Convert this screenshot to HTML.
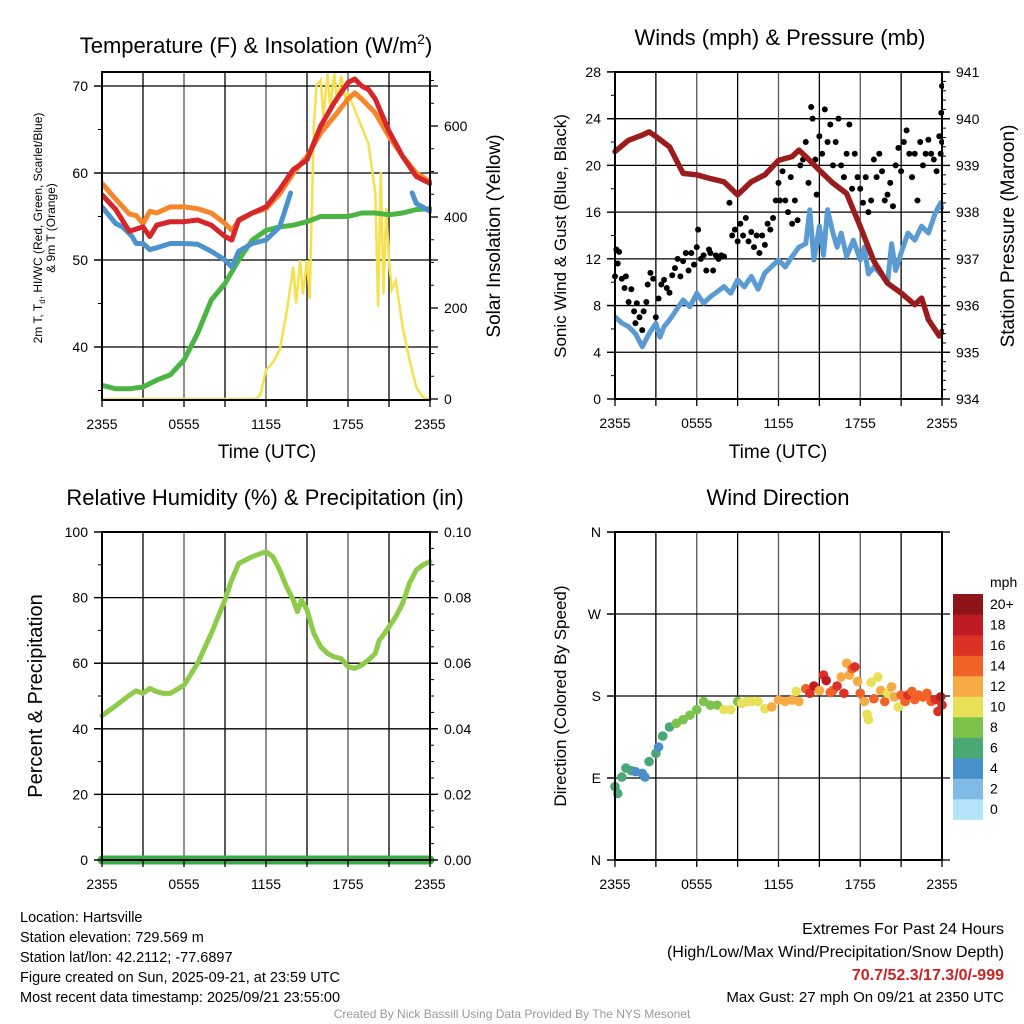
<!DOCTYPE html>
<html><head><meta charset="utf-8">
<style>
body{margin:0;background:#fff;}
svg{display:block;font-family:"Liberation Sans",Arial,sans-serif;}
</style></head>
<body>
<svg id="root" width="1024" height="1024" viewBox="0 0 1024 1024" xmlns="http://www.w3.org/2000/svg">
<defs>
<clipPath id="c1"><rect x="102" y="72" width="330" height="328"/></clipPath>
<clipPath id="c2"><rect x="612" y="72" width="332" height="328"/></clipPath>
<clipPath id="c3"><rect x="96" y="532" width="342" height="335"/></clipPath>
<clipPath id="c4"><rect x="605" y="532" width="345" height="328"/></clipPath>
</defs>
</svg>
<script>
// ---- Panel 1 data (hours since 2355 UTC) ----
const orangeH=[0,1,2,2.5,3,3.5,4,5,6,7,8,9,9.5,10,11,12,13,14,15,16,17,18,18.5,19,19.5,20,21,22,23,24];
const orangeT=[58.8,57.0,55.3,55.1,54.2,55.6,55.4,56.1,56.1,55.9,55.4,54.2,53.4,54.5,55.4,55.9,57.6,60,61.9,64.6,66.5,68.5,69.2,68.5,67.7,66.9,64.2,61.9,60,59.0];
const redH=[0,1,2,3,3.5,4,5,6,7,8,9,9.5,10,11,12,13,14,15,16,17,18,18.5,19,19.5,20,21,22,23,24];
const redT=[57.5,55.8,53.3,53.8,52.7,54.0,54.4,54.4,54.6,54.0,52.7,52.3,54.6,55.4,56.1,58.1,60.4,61.5,65.4,68.1,70.4,70.8,70.0,69.6,68.5,64.8,61.9,59.6,58.8];
const blueH=[0,1,1.5,2.2,2.5,3,3.5,4,5,6,7,8,9,9.5,10,11,12,13,13.8,null,22.7,23,24];
const blueT=[56.1,54.2,53.8,52.7,51.9,51.9,51.2,51.4,51.9,51.9,51.8,51.0,50.0,49.2,51.0,51.9,52.3,53.8,57.7,null,57.7,56.5,55.6];
const greenH=[0,1,2,3,4,5,6,7,8,9,10,11,12,13,14,15,16,17,18,19,20,21,22,23,24];
const greenT=[35.6,35.2,35.2,35.4,36.2,36.8,38.5,41.6,45.4,47.3,50.0,52.3,53.4,53.8,54.0,54.4,55.0,55.0,55.0,55.4,55.4,55.2,55.4,55.8,55.9];
const solarH=[0,11.3,11.6,12,12.5,13,13.5,14,14.2,14.5,14.7,15,15.2,15.5,15.7,16,16.2,16.5,16.7,17,17.2,17.5,17.8,18,18.5,19,19.5,20,20.2,20.4,20.6,20.8,21,21.2,21.5,22,22.5,23,23.5,24];
const solarW=[0,0,10,64,80,108,189,290,210,305,230,305,220,598,690,701,620,716,640,716,650,710,660,672,635,598,560,453,202,500,230,420,305,240,260,158,86,26,3,0];
// ---- Panel 2 data ----
const presH=[0,1,2,2.5,3,4,5,6,7,8,9,10,11,12,13,13.5,14,15,16,17,18,19,20,21,22,22.5,23,23.8,24];
const presMb=[939.3,939.54,939.65,939.72,939.62,939.40,938.83,938.80,938.72,938.65,938.37,938.65,938.80,939.11,939.19,939.33,939.19,938.90,938.62,938.40,937.69,936.95,936.48,936.27,936.02,936.16,935.70,935.35,935.45];
const windH=[0,0.5,1,1.5,2,2.5,3,3.3,3.6,4,5,5.5,6,6.5,7,8,8.5,9,9.5,10,10.5,11,12,12.5,13,13.5,14,14.3,14.6,15,15.3,15.6,16,16.3,16.6,17,17.5,18,18.3,18.6,19,19.5,20,20.3,20.6,21,21.5,22,22.5,23,23.5,23.9,24];
const windMph=[7.05,6.5,6.19,5.6,4.48,5.6,6.47,5.3,6.2,6.76,8.48,7.9,9.05,8.2,8.76,9.62,9.05,10.2,9.6,10.5,9.4,10.8,11.9,11.3,12.2,13.0,13.3,16.2,11.9,14.8,12.3,16.2,14.2,13.0,14.2,12.2,13.6,11.9,13.0,10.7,11.3,10.7,9.9,13.3,11.0,12.5,14.2,13.6,14.8,14.2,15.9,16.8,16.2];
const gustH=[0,0.1,0.2,0.3,0.5,0.7,0.8,1.0,1.2,1.4,1.5,1.6,1.8,2.0,2.1,2.3,2.4,2.6,2.8,3.0,3.2,3.4,3.6,3.8,4.0,4.2,4.4,4.6,4.8,5.0,5.2,5.4,5.6,5.8,6.0,6.1,6.3,6.5,6.7,6.9,7.0,7.2,7.4,7.6,7.8,8.0,8.4,8.6,8.8,9.0,9.2,9.4,9.6,9.8,10.0,10.2,10.4,10.6,10.8,11.0,11.2,11.4,11.6,11.8,12.0,12.1,12.3,12.5,12.7,12.9,13.0,13.2,13.4,13.6,13.8,14.0,14.2,14.4,14.5,14.7,14.8,15.0,15.2,15.4,15.6,15.8,16.0,16.2,16.4,16.6,16.8,17.0,17.2,17.4,17.6,17.8,18.0,18.2,18.4,18.6,18.8,19.0,19.2,19.4,19.6,19.8,20.0,20.2,20.4,20.6,20.8,21.0,21.2,21.4,21.6,21.8,22.0,22.2,22.4,22.6,22.8,23.0,23.2,23.4,23.6,23.8,23.9,24.0,23.95,24.0];
const gustMph=[10.5,12.8,11.6,12.6,10.3,9.5,10.5,8.3,9.4,7.5,6.5,8.2,7.0,5.9,7.5,8.3,9.8,10.8,10.3,7.0,8.6,9.8,10.2,9.5,9.1,10.6,11.2,12.0,10.5,11.8,12.5,11.0,12.5,11.5,13.0,14.5,12.0,12.3,11.0,12.8,12.5,11.0,12.3,12.0,12.3,12.2,16.8,14.0,14.5,13.5,15.0,14.0,15.5,13.5,14.3,13.0,14.0,12.5,14.0,13.2,15.0,14.5,15.5,17.0,18.5,17.0,19.5,17.0,16.0,19.0,15.0,17.0,15.3,20.0,20.5,22.0,18.5,25.0,24.0,20.5,17.5,22.5,21.0,24.8,22.0,23.5,20.0,22.0,24.0,20.0,19.0,21.0,23.5,18.0,21.0,19.0,18.0,16.8,19.0,16.0,17.0,20.5,19.0,21.0,19.5,17.0,17.5,18.5,16.5,20.0,21.5,19.5,22.0,23.0,21.0,19.0,21.0,17.0,22.0,20.0,21.0,22.2,21.0,20.5,19.5,22.5,21.0,22.0,24.5,26.8];
// ---- Panel 3 data ----
const rhH=[0,1,2,2.5,3,3.5,4,4.5,5,6,7,8,9,9.5,10,11,12,12.5,13,13.5,14,14.3,14.6,15,15.5,16,16.5,17,17.5,18,18.5,19,19.5,20,20.3,20.5,21,21.5,22,22.5,23,23.5,24];
const rhPct=[44.0,47,50.2,51.6,50.8,52.3,51.3,50.8,50.8,53.3,60,69.1,79.3,85.5,90.4,92.5,94.0,92.5,88.4,83.3,79.3,75.7,79.3,76.2,69.1,65.0,63.0,61.9,61.4,58.9,58.4,59.4,61.0,63.0,67.1,68.1,71.1,74.2,78.3,84.4,88.4,90.0,91.0];
const precipH=[0,24];
const precipIn=[0,0];
// ---- Panel 4 data ----
const dirH=[0,0.2,0.5,0.8,1.2,1.5,2,2.2,2.5,3,3.2,3.5,4,4.5,5,5.5,6,6.5,7,7.5,8,8.5,9,9.3,9.7,10,10.5,11,11.5,12,12.5,13,13.3,13.5,14,14.3,14.6,15,15.3,15.5,15.8,16,16.3,16.6,16.8,17,17.2,17.4,17.6,17.8,18,18.3,18.5,18.6,18.8,19,19.3,19.5,19.8,20,20.3,20.5,20.8,21,21.3,21.5,21.8,22,22.3,22.6,22.9,23.2,23.5,23.7,23.9,24];
const dirDeg=[80.5,73,91,101,98,97,95,91,108,117,124,136,146,150,154,159,165,174,170,170,165,165,174,172,174,174,174,166,168,175.6,174,175.6,185,174,188,183,191,186,203,197,184,186,191,201,183,216,203,210,212,196,183,174,160,154,195,177,201,186,174,183,190,179,168,181,174,181,185,176,181,179,183,174,176,163,179,170];
const dirSpd=[6,6,6,6,6,4,4,4,6,6,4,6,6,8,8,8,8,8,8,8,10,10,8,10,10,10,10,10,12,12,12,12,10,12,14,16,18,12,16,18,14,14,16,12,16,12,12,14,16,12,14,12,10,10,10,14,10,12,14,10,12,12,10,14,14,16,14,14,14,14,14,14,16,16,18,16];
const speedColors=["#b3e3f8","#7fbbe5","#4a90c8","#4aa874","#7bc34b","#e8e056","#f6ab45","#f06228","#dc3125","#bf1b22","#8e1419"];
const speedLabels=["0","2","4","6","8","10","12","14","16","18","20+"];

const NS="http://www.w3.org/2000/svg";
const root=document.getElementById('root');
function mk(tag,attrs,parent){const e=document.createElementNS(NS,tag);for(const k in attrs)e.setAttribute(k,attrs[k]);(parent||root).appendChild(e);return e;}
function txt(s,x,y,size,anchor,parent,extra){const t=mk('text',Object.assign({x:x,y:y,'font-size':size,'text-anchor':anchor||'middle',fill:'#000'},extra||{}),parent);t.textContent=s;return t;}
function pathFrom(hs,vs,sx,sy){let d='',pen=false;for(let i=0;i<hs.length;i++){if(hs[i]===null||vs[i]===null){pen=false;continue;}d+=(pen?'L':'M')+sx(hs[i]).toFixed(1)+' '+sy(vs[i]).toFixed(1);pen=true;}return d;}

function frame(x0,x1,y0,y1,gridYs,name){
  const g=mk('g',{});
  
  
  for(let i=0;i<=8;i++){const x=x0+(x1-x0)*i/8;mk('line',{x1:x,y1:y0,x2:x,y2:y1,stroke:i%2?'#000':'#555','stroke-width':1.3},g);}
  gridYs.forEach(y=>mk('line',{x1:x0-8,y1:y,x2:x1+8,y2:y,stroke:'#000','stroke-width':1.3},g));
  return g;
}
function border(x0,x1,y0,y1,name){
  const r=mk('rect',{x:x0,y:y0,width:x1-x0,height:y1-y0,fill:'none',stroke:'#000','stroke-width':2});
  
  
}
function xTicks(x0,x1,y1,name){
  const g=mk('g',{});
  
  
  const labs=["2355","0555","1155","1755","2355"];
  for(let i=0;i<=8;i++){const x=x0+(x1-x0)*i/8;mk('line',{x1:x,y1:y1,x2:x,y2:y1+7,stroke:'#000','stroke-width':1.3},g);}
  labs.forEach((l,i)=>txt(l,x0+(x1-x0)*i/4,y1+29,14,'middle',g));
  return g;
}
function yTicks(x,vals,sy,minor,side,labelFmt,name){
  const g=mk('g',{});
  
  
  const dir=side==='left'?-1:1;
  minor.forEach(v=>mk('line',{x1:x,y1:sy(v),x2:x+dir*4,y2:sy(v),stroke:'#000','stroke-width':1},g));
  vals.forEach(v=>{mk('line',{x1:x,y1:sy(v),x2:x+dir*8,y2:sy(v),stroke:'#000','stroke-width':1.3},g);
    txt(labelFmt(v),side==='left'?x-14:x+14,sy(v)+5,14,side==='left'?'end':'start',g);});
  return g;
}
function range(a,b,s){const r=[];for(let v=a;v<=b+1e-9;v+=s)r.push(+v.toFixed(4));return r;}
function rotLabel(s,x,y,size,name){const t=txt(s,x,y,size,'middle',root,{transform:`rotate(-90 ${x} ${y})`});return t;}

// ===== Panel 1 =====
(function(){
  const x0=102,x1=430,y0=72,y1=400;
  const sx=h=>x0+(x1-x0)*h/24;
  const sT=t=>86+(70-t)*8.7;
  const sS=s=>399-s*0.455;
  frame(x0,x1,y0,y1,[sT(70),sT(60),sT(50),sT(40)],'temp');
  const g=mk('g',{'clip-path':'url(#c1)'});
  
  
  let p=mk('path',{d:pathFrom(solarH,solarW,sx,sS),fill:'none',stroke:'#f6e04d','stroke-width':2.5},g);
  
  
  p=mk('path',{d:pathFrom(greenH,greenT,sx,sT),fill:'none',stroke:'#4bb543','stroke-width':5,'stroke-linejoin':'round','stroke-linecap':'round'},g);
  
  
  p=mk('path',{d:pathFrom(blueH,blueT,sx,sT),fill:'none',stroke:'#4c92cc','stroke-width':5,'stroke-linejoin':'round','stroke-linecap':'round'},g);
  
  
  p=mk('path',{d:pathFrom(orangeH,orangeT,sx,sT),fill:'none',stroke:'#f7852a','stroke-width':5,'stroke-linejoin':'round','stroke-linecap':'round'},g);
  
  
  p=mk('path',{d:pathFrom(redH,redT,sx,sT),fill:'none',stroke:'#d7262a','stroke-width':5,'stroke-linejoin':'round','stroke-linecap':'round'},g);
  
  
  border(x0,x1,y0,y1,'temp');
  xTicks(x0,x1,y1,'temp');
  yTicks(x0,[40,50,60,70],sT,[35,45,55,65],'left',v=>v,'temp-y-axis');
  yTicks(x1,[0,200,400,600],sS,range(0,700,50),'right',v=>v,'solar-y-axis');
  const t=txt('Temperature (F) & Insolation (W/m',256,53,22,'middle');
  
  
  const sup=mk('tspan',{'font-size':14,dy:-9},t);sup.textContent='2';
  const cl=mk('tspan',{dy:9},t);cl.textContent=')';
  const l1=mk('text',{x:42,y:228,'font-size':12,'text-anchor':'middle',transform:'rotate(-90 42 228)'});
  
  
  l1.textContent='2m T, T';
  const sb=mk('tspan',{'font-size':8,dy:3},l1);sb.textContent='d';
  const r1=mk('tspan',{dy:-3},l1);r1.textContent=', HI/WC (Red, Green, Scarlet/Blue)';
  rotLabel('& 9m T (Orange)',55,228,12,'temp-y-axis-title-2');
  rotLabel('Solar Insolation (Yellow)',500,236,19,'solar-y-axis-title');
  const xt=txt('Time (UTC)',267,458,19,'middle');
  
  
})();

// ===== Panel 2 =====
(function(){
  const x0=615,x1=942,y0=72,y1=399;
  const sx=h=>x0+(x1-x0)*h/24;
  const sW=w=>399-w*11.68;
  const sP=p=>399-(p-934)*46.7;
  frame(x0,x1,y0,y1,range(0,28,4).map(sW),'wind');
  const g=mk('g',{'clip-path':'url(#c2)'});
  
  
  let p=mk('path',{d:pathFrom(windH,windMph,sx,sW),fill:'none',stroke:'#5a9bd3','stroke-width':5,'stroke-linejoin':'round'},g);
  
  
  for(let i=0;i<gustH.length;i++){
    const c=mk('circle',{cx:sx(gustH[i]),cy:sW(gustMph[i]),r:3,fill:'#000'},g);
    
    
  }
  p=mk('path',{d:pathFrom(presH,presMb,sx,sP),fill:'none',stroke:'#9b1c1c','stroke-width':5.5,'stroke-linejoin':'round','stroke-linecap':'round'},g);
  
  
  border(x0,x1,y0,y1,'wind');
  xTicks(x0,x1,y1,'wind');
  yTicks(x0,range(0,28,4),sW,range(0,28,2),'left',v=>v,'wind-y-axis');
  yTicks(x1,range(934,941,1),sP,range(934,941,0.2),'right',v=>v,'pressure-y-axis');
  const t=txt('Winds (mph) & Pressure (mb)',780,45,22,'middle');
  
  
  rotLabel('Sonic Wind & Gust (Blue, Black)',566,236,17,'wind-y-axis-title');
  rotLabel('Station Pressure (Maroon)',1014,236,19,'pressure-y-axis-title');
  const xt=txt('Time (UTC)',778,458,19,'middle');
  
  
})();

// ===== Panel 3 =====
(function(){
  const x0=102,x1=430,y0=532,y1=860;
  const sx=h=>x0+(x1-x0)*h/24;
  const sR=r=>860-r*3.28;
  const sPr=v=>860-v*3280;
  frame(x0,x1,y0,y1,range(0,100,20).map(sR),'rh');
  const g=mk('g',{'clip-path':'url(#c3)'});
  
  
  let p=mk('path',{d:pathFrom(rhH,rhPct,sx,sR),fill:'none',stroke:'#8fcb4b','stroke-width':5,'stroke-linejoin':'round','stroke-linecap':'round'},g);
  
  
  p=mk('path',{d:pathFrom(precipH,precipIn,sx,sPr),fill:'none',stroke:'#3aae45','stroke-width':9,'stroke-linecap':'round'},g);
  
  
  mk('line',{x1:x0,y1:y1,x2:x1,y2:y1,stroke:'#000','stroke-width':1.3},g);
  border(x0,x1,y0,y1,'rh');
  xTicks(x0,x1,y1,'rh');
  yTicks(x0,range(0,100,20),sR,range(0,100,10),'left',v=>v,'rh-y-axis');
  yTicks(x1,range(0,0.1,0.02),sPr,range(0,0.1,0.005),'right',v=>v.toFixed(2),'precip-y-axis');
  const t=txt('Relative Humidity (%) & Precipitation (in)',265,505,22,'middle');
  
  
  rotLabel('Percent & Precipitation',42,696,20,'rh-y-axis-title');
})();

// ===== Panel 4 =====
(function(){
  const x0=615,x1=942,y0=532,y1=860;
  const sx=h=>x0+(x1-x0)*h/24;
  const sD=d=>860-d*0.911;
  frame(x0,x1,y0,y1,[0,90,180,270,360].map(sD),'dir');
  const g=mk('g',{'clip-path':'url(#c4)'});
  
  
  for(let i=0;i<dirH.length;i++){
    const bin=Math.min(10,Math.floor(dirSpd[i]/2));
    const c=mk('circle',{cx:sx(dirH[i]),cy:sD(dirDeg[i]),r:4.8,fill:speedColors[bin]},g);
    
    
  }
  border(x0,x1,y0,y1,'dir');
  xTicks(x0,x1,y1,'dir');
  yTicks(x0,[0,90,180,270,360],sD,[],'left',v=>['N','E','S','W','N'][v/90],'dir-y-axis');
  const t=txt('Wind Direction',778,505,22,'middle');
  
  
  rotLabel('Direction (Colored By Speed)',566,696,17,'dir-y-axis-title');
  // colorbar
  const cb=mk('g',{});
  
  
  const bx=953,by=594,bh=20.5;
  for(let i=0;i<11;i++){
    const r=mk('rect',{x:bx,y:by+(10-i)*bh,width:30,height:bh+0.3,fill:speedColors[i]},cb);
    
    
    txt(speedLabels[i],990,by+(10-i)*bh+15,14,'start',cb);
  }
  txt('mph',990,587,14,'start',cb);
})();

// ===== footer =====
const info=["Location: Hartsville","Station elevation: 729.569 m","Station lat/lon: 42.2112; -77.6897","Figure created on Sun, 2025-09-21, at 23:59 UTC","Most recent data timestamp: 2025/09/21 23:55:00"];
info.forEach((s,i)=>{const t=txt(s,20,922+i*20,14.5,'start');});
let t=txt('Extremes For Past 24 Hours',1004,934,16,'end');
t=txt('(High/Low/Max Wind/Precipitation/Snow Depth)',1004,957,16,'end');
t=txt('70.7/52.3/17.3/0/-999',1004,980,16,'end',root,{fill:'#cc2222','font-weight':'bold'});
t=txt('Max Gust: 27 mph On 09/21 at 2350 UTC',1004,1002,15,'end');
t=txt('Created By Nick Bassill Using Data Provided By The NYS Mesonet',512,1018,12,'middle',root,{fill:'#999'});
</script>
</body></html>
